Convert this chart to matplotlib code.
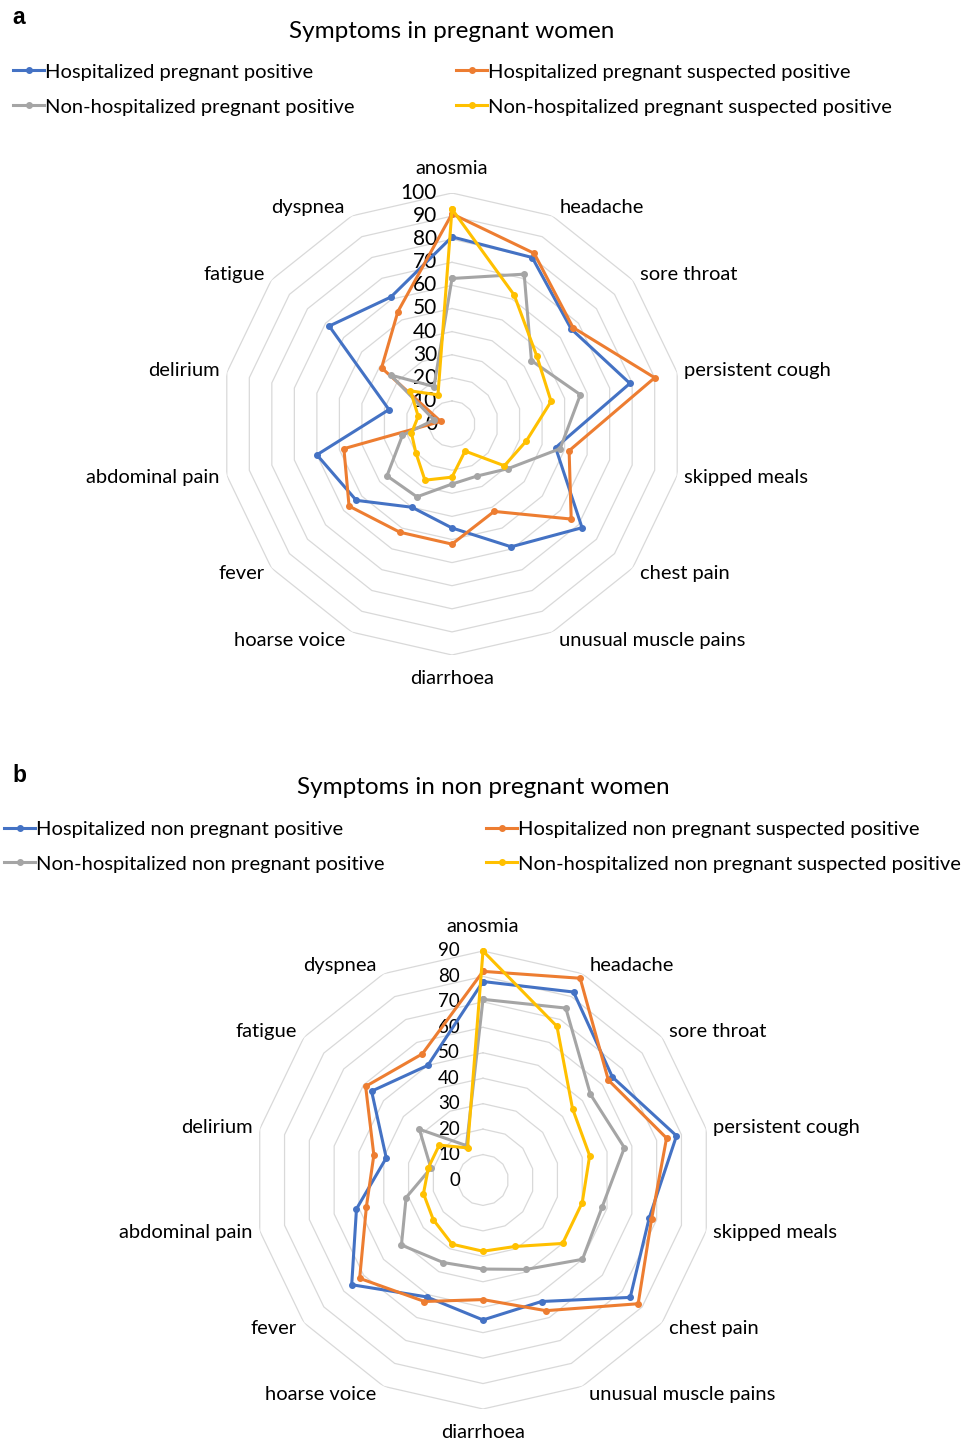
import numpy as np
import matplotlib
matplotlib.use("Agg")
import matplotlib.pyplot as plt
from matplotlib.lines import Line2D

plt.rcParams['font.family'] = ['Lato', 'DejaVu Sans']

W, H = 975, 1445

symptoms = ["anosmia", "headache", "sore throat", "persistent cough", "skipped meals",
            "chest pain", "unusual muscle pains", "diarrhoea", "hoarse voice", "fever",
            "abdominal pain", "delirium", "fatigue", "dyspnea"]

colors = ["#4472C4", "#ED7D31", "#A5A5A5", "#FFC000"]

# panel a: pregnant women (% with symptom)
labels_a = ["Hospitalized pregnant positive",
            "Hospitalized pregnant suspected positive",
            "Non-hospitalized pregnant positive",
            "Non-hospitalized pregnant suspected positive"]
hosp_preg_pos = [81, 80, 66, 79, 46, 72, 59, 45, 40, 53, 60, 28, 68, 61]
hosp_preg_susp = [91, 82, 67, 90, 52, 66, 42, 52, 52, 57, 48, 5, 39, 54]
nonhosp_preg_pos = [63, 72, 44, 57, 48, 31, 25, 26, 35, 36, 22, 8, 34, 18]
nonhosp_preg_susp = [93, 62, 47, 44, 33, 29, 13, 23, 27, 20, 18, 15, 23, 14]

# panel b: non pregnant women
labels_b = ["Hospitalized non pregnant positive",
            "Hospitalized non pregnant suspected positive",
            "Non-hospitalized non pregnant positive",
            "Non-hospitalized non pregnant suspected positive"]
hosp_nonpreg_pos = [78, 82, 65, 78, 67, 74, 53, 55, 51, 66, 51, 39, 56, 50]
hosp_nonpreg_susp = [82, 88, 63, 74, 68, 78, 57, 47, 53, 62, 47, 44, 59, 55]
nonhosp_nonpreg_pos = [71, 75, 54, 57, 48, 50, 39, 35, 36, 41, 31, 21, 32, 15]
nonhosp_nonpreg_susp = [90, 67, 45, 43, 40, 40, 29, 28, 28, 25, 24, 22, 22, 14]


def radar(ax, series, rmax, num_size, num_dx):
    n = len(symptoms)
    theta = np.linspace(0, 2 * np.pi, n, endpoint=False)
    tc = np.append(theta, theta[0])
    ax.set_theta_zero_location("N")
    ax.set_theta_direction(-1)
    ax.set_ylim(0, rmax)
    ax.grid(False)
    ax.spines["polar"].set_visible(False)
    ax.set_xticks([])
    ax.set_yticks([])

    # polygon grid like excel
    for v in range(10, rmax + 1, 10):
        ax.plot(tc, [v] * (n + 1), color="#d9d9d9", lw=0.9, zorder=1)
    for v in range(0, rmax + 1, 10):
        ax.annotate(str(v), (0, v), xytext=(num_dx, 0), textcoords="offset pixels",
                    ha="right", va="center", fontsize=num_size, annotation_clip=False)

    for vals, c in zip(series, colors):
        ax.plot(tc, list(vals) + [vals[0]], color=c, lw=2.2, marker="o", ms=4,
                zorder=3, clip_on=False)

    for t, name in zip(theta, symptoms):
        s, co = np.sin(t), np.cos(t)
        if abs(s) < 1e-6:
            ax.annotate(name, (t, rmax), xytext=(0, 24 * co), textcoords="offset pixels",
                        ha="center", va="center", fontsize=14.5, annotation_clip=False)
        else:
            ax.annotate(name, (t, rmax), xytext=(7 * np.sign(s), 9 * co),
                        textcoords="offset pixels", ha="left" if s > 0 else "right",
                        va="center", fontsize=14.5, annotation_clip=False)


def legend_entry(fig, color, label, x, y):
    h = Line2D([], [], color=color, lw=2.2, marker="o", ms=4)
    fig.legend([h], [label], loc="center left", bbox_to_anchor=(x / W, 1 - y / H),
               frameon=False, borderpad=0, borderaxespad=0, handlelength=1.55,
               handletextpad=0.05, fontsize=14.5)


fig = plt.figure(figsize=(W / 100, H / 100), dpi=100)

# panel a
ax_a = fig.add_axes([221 / W, 1 - 655 / H, 462 / W, 462 / H], projection="polar")
radar(ax_a, [hosp_preg_pos, hosp_preg_susp, nonhosp_preg_pos, nonhosp_preg_susp],
      100, 15, -15)
fig.text(452 / W, 1 - 31 / H, "Symptoms in pregnant women", ha="center", va="center",
         fontsize=17.5)
fig.text(19 / W, 1 - 18 / H, "a", ha="center", va="center", fontsize=16.5,
         fontweight="bold", family="Liberation Sans")
legend_entry(fig, colors[0], labels_a[0], 13, 72)
legend_entry(fig, colors[1], labels_a[1], 456, 72)
legend_entry(fig, colors[2], labels_a[2], 13, 107)
legend_entry(fig, colors[3], labels_a[3], 456, 107)

# panel b
ax_b = fig.add_axes([254 / W, 1 - 1409 / H, 458 / W, 458 / H], projection="polar")
radar(ax_b, [hosp_nonpreg_pos, hosp_nonpreg_susp, nonhosp_nonpreg_pos, nonhosp_nonpreg_susp],
      90, 13.5, -23)
fig.text(483 / W, 1 - 788 / H, "Symptoms in non pregnant women", ha="center", va="center",
         fontsize=17.5)
fig.text(19 / W, 1 - 775 / H, "b", ha="center", va="center", fontsize=16.5,
         fontweight="bold", family="Liberation Sans")
legend_entry(fig, colors[0], labels_b[0], 4, 829)
legend_entry(fig, colors[1], labels_b[1], 486, 829)
legend_entry(fig, colors[2], labels_b[2], 4, 864)
legend_entry(fig, colors[3], labels_b[3], 486, 864)

fig.savefig("out.png", dpi=100)
